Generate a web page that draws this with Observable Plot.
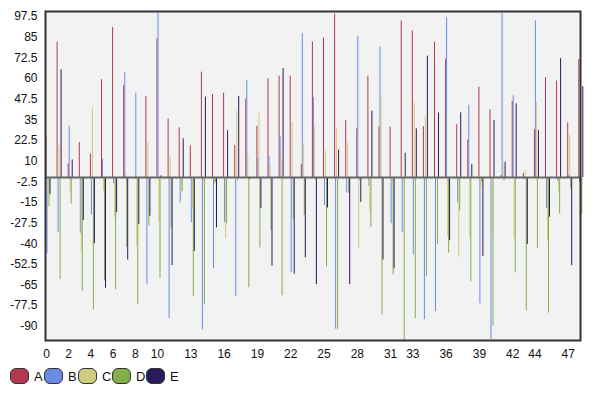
<!DOCTYPE html>
<html><head><meta charset="utf-8">
<script src="https://cdn.jsdelivr.net/npm/d3@7"></script>
<script src="https://cdn.jsdelivr.net/npm/@observablehq/plot@0.6"></script>
<style>
body{margin:0;background:#fff;font-family:"Liberation Sans",Arial,sans-serif}
#legend{display:flex;align-items:center;margin:6px 0 0 10px;font-size:13px;color:#111}
.item{display:flex;align-items:center;width:34px;flex:none}
.sw{width:17px;height:14px;border:1px solid #333;border-radius:6px;margin-right:5px;flex:none}
</style>
</head><body><div id="chart"></div><div id="legend"></div>
<script>
const categories = [0,1,2,3,4,5,6,7,8,9,10,11,12,13,14,15,16,17,18,19,20,21,22,23,24,25,26,27,28,29,30,31,32,33,34,35,36,37,38,39,40,41,42,43,44,45,46,47,48];
const seriesNames = ["A","B","C","D","E"];
const seriesColors = ["#b23a4f","#6a8ae6","#cfcd7e","#84ae4a","#2b1a5a"];
const seriesA = [24.8,81.9,8.3,21.2,14.3,59.2,90.8,55.6,-1,49.1,84,35.4,30.1,19.2,63.8,50.3,51.1,19.4,47.7,31.1,59.8,61.4,61.4,8.1,82,84.4,99,34.5,29.5,61.4,30.7,30.5,94.8,88.7,30.7,82,71.7,32,22.8,54.7,41,1.2,46,2.6,28.9,60.4,58.4,33.1,71.3];
const seriesB = [-45.9,-33.2,31,-33.7,-22.4,11.1,-3.8,63.4,51.1,-64.8,99.7,-85.2,-15.3,-27.3,-92.3,-55.2,-27.3,-72,58.8,11.7,12.9,24.8,-57.4,87.1,48.3,-17,-91.7,-9.3,85.5,-5.3,79,-28,-33,-46.9,-86,-81,96.8,-15.3,43.8,-76.4,-98,99.7,49.5,-1,94.8,-18.6,-2,1.2,-3];
const seriesC = [-6.9,19.4,-9.5,-45.4,42.4,-8.5,-24.2,2.2,-42,20.9,-27,12.6,-9.5,-18.6,-2,-4.4,-36.7,40,13.1,39,7.9,13.9,33.5,20.6,30.7,16,30.1,20.6,-42.8,-20.6,49.1,-3,-2,44.8,36.8,1,-35.2,-48.3,-36.8,-7,-35,9.3,-37,4.2,45.3,-38.6,-8.5,25.5,39];
const seriesD = [-17.6,-61.7,-16,-69,-80,-62.4,-67.9,-42.2,-76.9,-29.3,-61,-30.5,-8.5,-72,-77,-3,-28,-2,-66.7,-42.6,-32.1,-71.5,-25.4,-23,-1.5,-53.9,-92.1,-9.5,-2,-30.3,-83,-58.8,-98.7,-85.5,-60,-40.6,-45.7,-20,-63,-3,-89.7,-2,-57.7,-80.6,-42.8,-82,-22,-7,-22.4];
const seriesE = [-10.3,65.3,10.7,-26,-40,-67,-21.2,-49.9,-28.4,-23.4,1,-53.3,23.4,-44.8,48.7,-30.5,28.3,49.1,-1.2,-18.6,-53.7,65.9,-58.4,-48.5,-64.8,-18.4,16.6,-64.8,-15,40.2,-49.9,-55.2,14.7,29.5,73.5,39,-38.2,39.2,7.8,-47.7,34.5,9.3,44.6,-40.6,28.5,-24,72,-53.3,55];
const yTicks = [97.5,85,72.5,60,47.5,35,22.5,10,-2.5,-15,-27.5,-40,-52.5,-65,-77.5,-90];
const xTicks = [0,2,4,6,8,10,13,16,19,22,25,28,31,33,36,39,42,44,47];

const allSeries = [seriesA, seriesB, seriesC, seriesD, seriesE];
const barW = 0.09;
const rows = [];
categories.forEach((c, i) => {
  allSeries.forEach((s, k) => {
    rows.push({cat: c, series: seriesNames[k], x1: c + k * barW, x2: c + (k + 1) * barW, value: s[i]});
  });
});

const chart = Plot.plot({
  width: 600,
  height: 362,
  marginLeft: 45,
  marginRight: 20,
  marginTop: 11,
  marginBottom: 22,
  style: {fontFamily: "'Liberation Sans', Arial, sans-serif", fontSize: "12px", background: "#fff", overflow: "visible"},
  x: {domain: [-0.045, 48.153], label: null},
  y: {domain: [-98.6, 100.5], label: null},
  color: {domain: seriesNames, range: seriesColors},
  marks: [
    Plot.frame({fill: "#f2f2f2", stroke: null}),
    Plot.rect(rows, {x1: "x1", x2: "x2", y1: 0, y2: "value", fill: "series"}),
    Plot.ruleY([0], {stroke: "#666", strokeWidth: 2}),
    Plot.frame({stroke: "#333", strokeWidth: 2}),
    Plot.axisY({ticks: yTicks, tickSize: 0, tickPadding: 8, tickFormat: d => String(d), fill: "#111", label: null}),
    Plot.axisX({ticks: xTicks, tickSize: 0, tickPadding: 9, tickFormat: d => String(d), dx: 0.5, fill: "#111", label: null})
  ]
});
document.getElementById("chart").appendChild(chart);

const legend = document.getElementById("legend");
seriesNames.forEach((n, k) => {
  const it = document.createElement("div");
  it.className = "item";
  const sw = document.createElement("div");
  sw.className = "sw";
  sw.style.background = seriesColors[k];
  const lb = document.createElement("span");
  lb.textContent = n;
  it.appendChild(sw); it.appendChild(lb);
  legend.appendChild(it);
});
</script>
</body></html>
